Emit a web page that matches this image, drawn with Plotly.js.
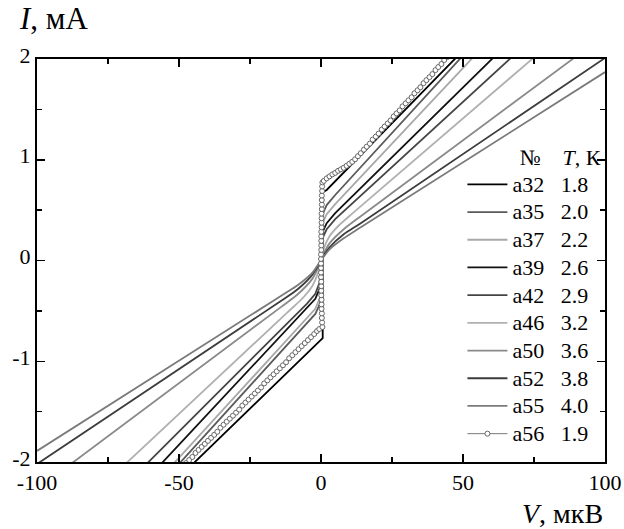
<!DOCTYPE html>
<html>
<head>
<meta charset="utf-8">
<script src="https://cdn.plot.ly/plotly-3.0.1.min.js"></script>
<style>html,body{margin:0;padding:0;background:#fff;}#chart{width:624px;height:529px;}</style>
</head>
<body>
<div id="chart"></div>
<script>
// ---- data (V in µV, I in mA) ----
const a32V = [-45.5, -2.0, -0.5, 0.6, 0.6, 0.8, 2.0, 48.5];
const a32I = [-2.03, -0.84, -0.80, -0.77, 0.66, 0.68, 0.70, 2.04];

const a35V = [-51, -5, -2, -0.4, 0, 0.4, 2, 5, 50.5];
const a35I = [-2.05, -0.63, -0.53, -0.43, 0, 0.45, 0.55, 0.65, 2.05];

const a37V = [-53, -5, -2, -0.4, 0.4, 2, 5, 55];
const a37I = [-2.05, -0.57, -0.48, -0.37, 0.36, 0.46, 0.56, 2.06];

const a39V = [-57, -5, -2, -0.5, 0.5, 2, 5, 62];
const a39I = [-2.04, -0.48, -0.38, -0.28, 0.28, 0.37, 0.47, 2.05];

const a42V = [-62.5, -5, -2, -0.5, 0.5, 2, 5, 68];
const a42I = [-2.05, -0.43, -0.33, -0.22, 0.22, 0.31, 0.41, 2.04];

const a46V = [-70, -12, -6, -3, -1, 1, 3, 6, 12, 76];
const a46I = [-2.05, -0.52, -0.36, -0.25, -0.12, 0.12, 0.24, 0.34, 0.49, 2.04];

const a50V = [-90, -14, -8, -3, -1, 1, 3, 8, 14, 91];
const a50I = [-2.06, -0.46, -0.33, -0.18, -0.07, 0.07, 0.17, 0.31, 0.44, 2.05];

const a52V = [-100, -14, -8, -3, -1, 1, 3, 8, 14, 100];
const a52I = [-2.02, -0.40, -0.28, -0.14, -0.05, 0.05, 0.13, 0.26, 0.37, 2.01];

const a55V = [-100, -14, -8, -3, -1, 1, 3, 8, 14, 100];
const a55I = [-1.89, -0.35, -0.24, -0.12, -0.04, 0.04, 0.11, 0.22, 0.33, 1.87];

const a56V = [
  -47.5,-46.4,-45.3,-44.2,-43.1,-42.0,-40.9,-39.8,-38.7,-37.6,-36.5,-35.4,-34.3,-33.2,-32.1,-31.0,
  -29.9,-28.8,-27.7,-26.6,-25.5,-24.4,-23.3,-22.2,-21.1,-20.0,-18.9,-17.8,-16.7,-15.6,-14.5,-13.4,
  -12.3,-11.2,-10.1,-9.0,-7.9,-6.8,-5.7,-4.6,-3.5,-2.4,-1.4,-0.6,
  0.5,0.4,0.3,0.3,0.2,0.2,0.2,0.1,0.1,0.1,0.1,0.0,0.0,0.0,0.0,0.0,0.0,0.1,0.1,0.1,0.1,0.1,0.2,0.2,0.2,0.2,0.3,0.3,0.3,0.3,0.4,0.4,0.5,
  1.0,2.0,3.0,4.0,5.0,6.0,7.0,8.0,9.0,10.0,11.0,12.0,13.0,14.0,
  15.1,16.1,17.2,18.2,19.3,20.3,21.4,22.4,23.5,24.5,25.6,26.6,27.7,28.7,29.8,30.8,31.9,32.9,34.0,35.0,
  36.1,37.1,38.2,39.2,40.3,41.3,42.4,43.4,44.5
];
const a56I = [
  -2.01,-1.98,-1.95,-1.91,-1.88,-1.85,-1.82,-1.79,-1.76,-1.73,-1.70,-1.66,-1.63,-1.60,-1.57,-1.54,
  -1.51,-1.48,-1.44,-1.41,-1.38,-1.35,-1.32,-1.29,-1.26,-1.22,-1.19,-1.16,-1.13,-1.10,-1.07,-1.04,
  -1.01,-0.97,-0.94,-0.91,-0.88,-0.85,-0.82,-0.79,-0.76,-0.73,-0.70,-0.68,
  -0.66,-0.615,-0.57,-0.525,-0.48,-0.435,-0.39,-0.345,-0.30,-0.255,-0.21,-0.165,-0.12,-0.075,-0.03,0.015,0.06,
  0.105,0.15,0.195,0.24,0.285,0.33,0.375,0.42,0.465,0.51,0.555,0.60,0.645,0.69,0.735,0.775,
  0.79,0.815,0.835,0.855,0.87,0.89,0.905,0.92,0.94,0.96,0.98,1.005,1.035,1.065,
  1.10,1.13,1.16,1.20,1.23,1.26,1.30,1.33,1.36,1.39,1.43,1.46,1.49,1.53,1.56,1.59,1.62,1.66,1.69,1.72,
  1.76,1.79,1.82,1.85,1.89,1.92,1.95,1.99,2.02
];

const sampleNames = ['а32','а35','а37','а39','а42','а46','а50','а52','а55','а56'];
const temps = ['1.8','2.0','2.2','2.6','2.9','3.2','3.6','3.8','4.0','1.9'];

const xTickVals = [-100, -50, 0, 50, 100];
const xTickText = ['-100', '-50', '0', '50', '100'];
const yTickVals = [-2, -1, 0, 1, 2];
const yTickText = ['-2', '-1', '0', '1', '2'];

// ---- styling ----
const FONT = "'Liberation Serif', 'Times New Roman', 'DejaVu Serif', serif";
const lineColors = ['#000000','#5a5a5a','#a8a8a8','#111111','#454545','#b0b0b0','#8a8a8a','#3c3c3c','#7a7a7a','#666666'];
const series = [[a32V,a32I],[a35V,a35I],[a37V,a37I],[a39V,a39I],[a42V,a42I],[a46V,a46I],[a50V,a50I],[a52V,a52I],[a55V,a55I]];

const NB = '\u00a0';
const big = t => '<span style="font-size:22px">' + t + '</span>';
const traces = series.map((s, i) => ({
  x: s[0], y: s[1], type: 'scatter', mode: 'lines',
  name: big(sampleNames[i] + NB.repeat(3) + temps[i]),
  line: {color: lineColors[i], width: 1.8, shape: i >= 5 ? 'spline' : 'linear', smoothing: 0.8}
}));
traces.push({
  x: a56V, y: a56I, type: 'scatter', mode: 'lines+markers',
  name: big(sampleNames[9] + NB.repeat(3) + temps[9]),
  line: {color: '#777777', width: 1},
  marker: {symbol: 'circle', size: 5, color: '#ffffff', line: {color: '#666666', width: 1}}
});

const layout = {
  width: 624, height: 529,
  margin: {l: 37, r: 19, t: 59, b: 67},
  paper_bgcolor: '#ffffff', plot_bgcolor: '#ffffff',
  font: {family: FONT, size: 19, color: '#000'},
  showlegend: true,
  legend: {
    x: 0.749, y: 0.797, xanchor: 'left', yanchor: 'top',
    bgcolor: 'rgba(0,0,0,0)', borderwidth: 0,
    font: {family: FONT, size: 19, color: '#000'},
    title: {text: big(NB.repeat(10) + '№' + NB.repeat(4) + '<i>T</i>, К'), font: {family: FONT, size: 19, color: '#000'}},
    itemwidth: 40
  },
  xaxis: {
    range: [-100, 100], tickmode: 'array', tickvals: xTickVals, ticktext: xTickText,
    ticks: 'inside', ticklen: 8, tickwidth: 1.5, tickcolor: '#000',
    minor: {ticks: 'inside', ticklen: 5, tickwidth: 1.5, tickcolor: '#000', dtick: 25, tick0: 0},
    showline: true, linewidth: 2, linecolor: '#000', mirror: 'allticks',
    showgrid: false, zeroline: false,
    tickfont: {family: FONT, size: 22, color: '#000'}
  },
  yaxis: {
    range: [-2, 2], tickmode: 'array', tickvals: yTickVals, ticktext: yTickText,
    ticks: 'inside', ticklen: 8, tickwidth: 1.5, tickcolor: '#000',
    minor: {ticks: 'inside', ticklen: 5, tickwidth: 1.5, tickcolor: '#000', dtick: 0.5, tick0: 0},
    showline: true, linewidth: 2, linecolor: '#000', mirror: 'allticks',
    showgrid: false, zeroline: false, ticklabelshift: -4,
    tickfont: {family: FONT, size: 22, color: '#000'}
  },
  annotations: [
    {xref: 'paper', yref: 'paper', x: -0.035, y: 1.10, xanchor: 'left', yanchor: 'middle',
     text: '<i>I</i>, мА', showarrow: false, font: {family: FONT, size: 31, color: '#000'}},
    {xref: 'paper', yref: 'paper', x: 1.0, y: -0.128, xanchor: 'right', yanchor: 'middle',
     text: '<i>V</i>, мкВ', showarrow: false, font: {family: FONT, size: 28, color: '#000'}}
  ]
};

Plotly.newPlot('chart', traces, layout, {staticPlot: true, displayModeBar: false});
</script>
</body>
</html>
